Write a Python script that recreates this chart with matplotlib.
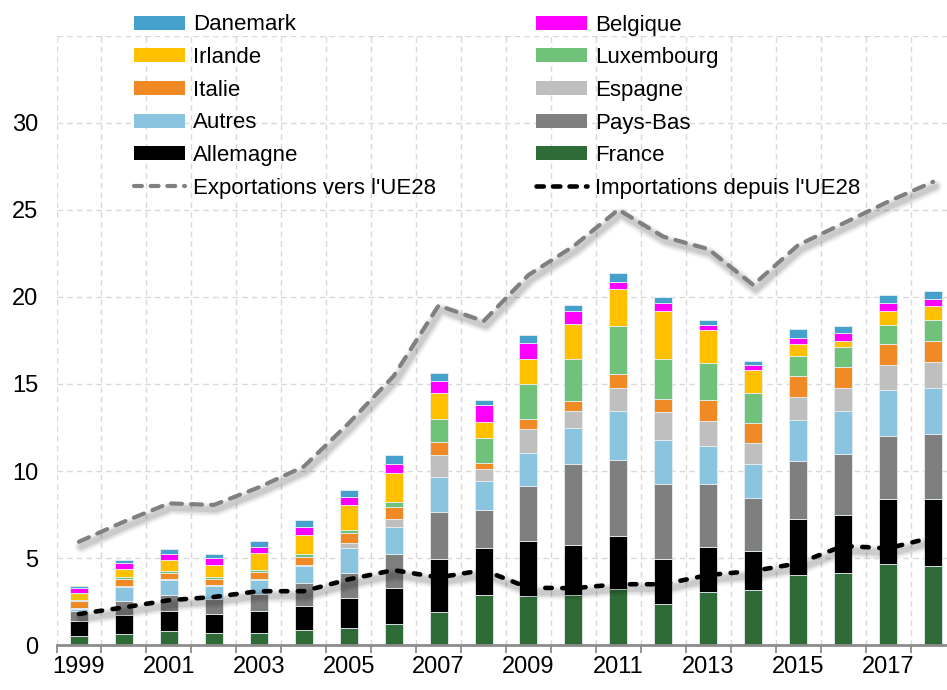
import matplotlib
matplotlib.use("Agg")
import matplotlib.pyplot as plt
import matplotlib.transforms as mtransforms
from matplotlib.lines import Line2D
from matplotlib.patches import Patch
import numpy as np

plt.rcParams['font.family'] = ['Liberation Sans', 'DejaVu Sans']

years = list(range(1999, 2019))

france     = [0.53, 0.62, 0.82, 0.71, 0.71, 0.87, 0.97, 1.22, 1.93, 2.88, 2.83, 2.88, 3.23, 2.36, 3.05, 3.17, 4.03, 4.13, 4.64, 4.54]
allemagne  = [0.88, 1.13, 1.16, 1.10, 1.27, 1.38, 1.72, 2.08, 3.02, 2.72, 3.17, 2.87, 3.06, 2.59, 2.61, 2.24, 3.21, 3.34, 3.73, 3.83]
pays_bas   = [0.57, 0.77, 0.90, 0.82, 0.96, 1.32, 1.47, 1.94, 2.72, 2.16, 3.14, 4.63, 4.36, 4.30, 3.59, 3.06, 3.31, 3.52, 3.66, 3.77]
autres     = [0.08, 0.80, 0.88, 0.77, 0.80, 0.98, 1.44, 1.56, 2.00, 1.66, 1.87, 2.11, 2.79, 2.55, 2.20, 1.91, 2.36, 2.45, 2.64, 2.60]
espagne    = [0.06, 0.10, 0.06, 0.06, 0.06, 0.04, 0.25, 0.42, 1.25, 0.69, 1.40, 0.95, 1.32, 1.57, 1.40, 1.24, 1.34, 1.32, 1.41, 1.51]
italie     = [0.40, 0.40, 0.34, 0.36, 0.38, 0.48, 0.61, 0.71, 0.76, 0.37, 0.59, 0.60, 0.79, 0.76, 1.21, 1.11, 1.22, 1.23, 1.21, 1.21]
luxembourg = [0.07, 0.10, 0.10, 0.10, 0.14, 0.19, 0.15, 0.27, 1.32, 1.39, 2.01, 2.37, 2.79, 2.28, 2.16, 1.76, 1.11, 1.11, 1.11, 1.23]
irlande    = [0.39, 0.45, 0.63, 0.70, 0.99, 1.04, 1.44, 1.68, 1.50, 0.96, 1.42, 2.03, 2.11, 2.79, 1.88, 1.31, 0.71, 0.36, 0.80, 0.78]
belgique   = [0.32, 0.33, 0.37, 0.37, 0.35, 0.51, 0.47, 0.50, 0.69, 0.96, 0.94, 0.76, 0.42, 0.44, 0.30, 0.26, 0.36, 0.44, 0.44, 0.42]
danemark   = [0.10, 0.19, 0.24, 0.24, 0.34, 0.37, 0.39, 0.54, 0.43, 0.28, 0.44, 0.35, 0.52, 0.35, 0.29, 0.25, 0.50, 0.42, 0.44, 0.44]

exportations = [5.94, 7.09, 8.14, 8.05, 9.06, 10.25, 12.74, 15.45, 19.5, 18.6, 21.25, 22.9, 25.0, 23.45, 22.74, 20.68, 22.97, 24.21, 25.46, 26.6]
importations = [1.79, 2.17, 2.58, 2.77, 3.10, 3.10, 3.78, 4.31, 3.89, 4.31, 3.30, 3.27, 3.50, 3.50, 4.03, 4.26, 4.70, 5.70, 5.56, 6.20]

series = [
    ("France", france, "#2E6B36"),
    ("Allemagne", allemagne, "#000000"),
    ("Pays-Bas", pays_bas, "#7F7F7F"),
    ("Autres", autres, "#8BC4DF"),
    ("Espagne", espagne, "#BFBFBF"),
    ("Italie", italie, "#F08A24"),
    ("Luxembourg", luxembourg, "#70C17A"),
    ("Irlande", irlande, "#FFC000"),
    ("Belgique", belgique, "#FF00FF"),
    ("Danemark", danemark, "#45A1CB"),
]

W, H = 947, 690
fig = plt.figure(figsize=(W / 100, H / 100), dpi=100)
left_px, right_px = 56.5, 955.5
bottom_px, top_px = 645.2, 35.5
ax = fig.add_axes([left_px / W, (H - bottom_px) / H,
                   (right_px - left_px) / W, (bottom_px - top_px) / H])

x = np.arange(len(years))
bottom = np.zeros(len(years))
handles = {}
for name, vals, col in series:
    v = np.array(vals)
    ax.bar(x, v, width=0.4, bottom=bottom, color=col,
           edgecolor="#e6eef2", linewidth=0.6, zorder=3)
    handles[name] = Patch(facecolor=col, edgecolor='none')
    bottom += v

EXP_DASH = (2.6, 2.2)
IMP_DASH = (1.4, 2.3)

# soft (blurred-looking) drop shadows
def draw_shadow(yvals, lw0, z):
    tr = mtransforms.offset_copy(ax.transData, fig=fig, x=1.8, y=-3.4, units='points')
    for extra, a in [(7, 0.035), (5, 0.045), (3, 0.06), (1, 0.08)]:
        ax.plot(x, yvals, color='k', lw=lw0 + extra, alpha=a, transform=tr,
                solid_capstyle='round', solid_joinstyle='round', zorder=z)

draw_shadow(exportations, 3.0, 4)
draw_shadow(importations, 3.3, 4)

ax.plot(x, exportations, color="#808080", lw=3.0, dashes=EXP_DASH,
        dash_capstyle='round', dash_joinstyle='round', zorder=5)
ax.plot(x, importations, color="#000000", lw=3.3, dashes=IMP_DASH,
        dash_capstyle='round', dash_joinstyle='round', zorder=6)

ax.set_xlim(-0.5, len(years) - 0.5)
ax.set_ylim(0, 35)

ax.set_yticks(np.arange(0, 40, 5))
ax.set_yticklabels([str(v) if v <= 30 else "" for v in range(0, 40, 5)])
ax.tick_params(axis='y', length=0, pad=13, labelsize=17)

ax.set_xticks(x[::2])
ax.set_xticklabels([str(y) for y in years[::2]])
ax.set_xticks(np.arange(-0.5, len(years), 1), minor=True)
ax.tick_params(axis='x', which='major', length=0, pad=8, labelsize=17)
ax.tick_params(axis='x', which='minor', length=6, width=1.3, color="#8c8c8c", direction='out')

ax.grid(False)
for yv in range(5, 40, 5):
    ax.axhline(yv, color="#d9d9d9", lw=1.0, ls=(0, (4, 3)), zorder=0)
for xv in np.arange(-0.5, len(years), 1):
    ax.axvline(xv, color="#d9d9d9", lw=1.0, ls=(0, (4, 3)), zorder=0)

for s in ['top', 'right', 'left']:
    ax.spines[s].set_visible(False)
ax.spines['bottom'].set_color("#8c8c8c")
ax.spines['bottom'].set_linewidth(2)
ax.spines['bottom'].set_zorder(7)

exp_h = Line2D([], [], color="#808080", lw=3.0, dashes=(1.9, 2.1), dash_capstyle='round')
imp_h = Line2D([], [], color="#000000", lw=3.3, dashes=(1.6, 2.0), dash_capstyle='round')
order = [("Danemark", handles["Danemark"]), ("Irlande", handles["Irlande"]),
         ("Italie", handles["Italie"]), ("Autres", handles["Autres"]),
         ("Allemagne", handles["Allemagne"]), ("Exportations vers l'UE28", exp_h),
         ("Belgique", handles["Belgique"]), ("Luxembourg", handles["Luxembourg"]),
         ("Espagne", handles["Espagne"]), ("Pays-Bas", handles["Pays-Bas"]),
         ("France", handles["France"]), ("Importations depuis l'UE28", imp_h)]
fig.legend([h for _, h in order], [l for l, _ in order], ncol=2,
           frameon=False, fontsize=16, loc='upper left',
           bbox_to_anchor=(134 / W, 1 - 14.5 / H),
           handlelength=2.3, handleheight=0.6, handletextpad=0.35,
           labelspacing=0.525, columnspacing=4.5, borderaxespad=0, borderpad=0)

fig.savefig("out.png", dpi=100)
